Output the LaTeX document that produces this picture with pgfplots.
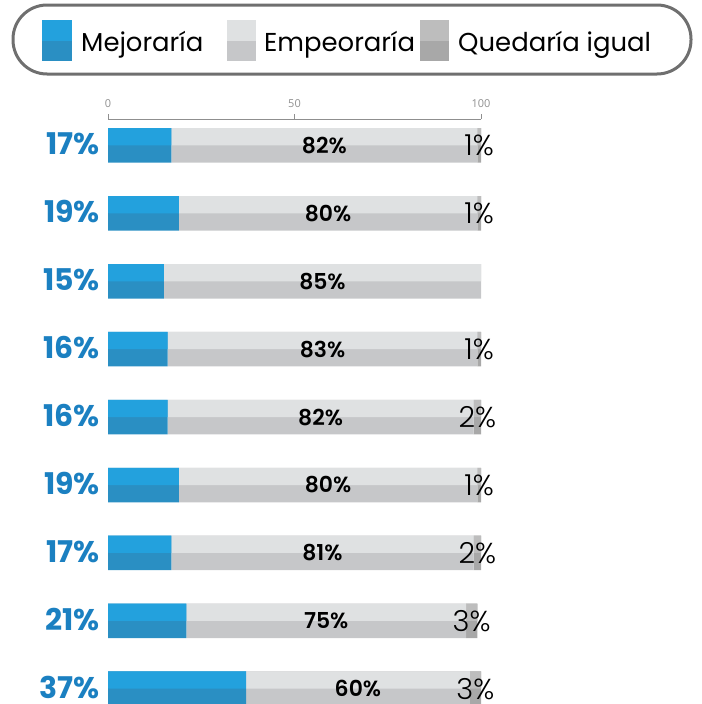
\documentclass[border=0pt]{standalone}
\usepackage{fontspec}
\usepackage{pgfplots}
\pgfplotsset{compat=1.18}
\setmainfont{Poppins}
\IfFontExistsTF{Poppins Light}{\newfontfamily\lightfont{Poppins Light}}{\newfontfamily\lightfont{Poppins}}
\IfFontExistsTF{Poppins SemiBold}{\newfontfamily\semifont{Poppins SemiBold}}{\newfontfamily\semifont[FakeBold=0]{Poppins Bold}}
\newfontfamily\tickfont{Open Sans}
\definecolor{blueL}{HTML}{23A1DD}
\definecolor{blueD}{HTML}{2A8FC3}
\definecolor{empL}{HTML}{DFE1E2}
\definecolor{empD}{HTML}{C6C7C9}
\definecolor{queL}{HTML}{BDBDBD}
\definecolor{queD}{HTML}{A8A8A8}
\definecolor{labblue}{HTML}{1B80C1}
\definecolor{boxgray}{HTML}{6F6F6F}
\definecolor{tickgray}{HTML}{8F8F8F}

\pgfplotstableread{
y mej emp que
9 17 82 1
8 19 80 1
7 15 85 0
6 16 83 1
5 16 82 2
4 19 80 1
3 17 81 2
2 21 75 3
1 37 60 3
}\bars
\pgfplotstableread{
x y lab
0 9 17
0 8 19
0 7 15
0 6 16
0 5 16
0 4 19
0 3 17
0 2 21
0 1 37
}\bluelab
\pgfplotstableread{
x y lab
58 9 82
59 8 80
57.5 7 85
57.5 6 83
57 5 82
59 4 80
57.5 3 81
58.5 2 75
67 1 60
}\midlab
\pgfplotstableread{
x y lab
99.5 9 1
99.5 8 1
99.5 6 1
99 5 2
99.5 4 1
99 3 2
97.5 2 3
98.5 1 3
}\rightlab

\pgfplotsset{
  common/.style={
    at={(108bp,-119bp)}, anchor=north west,
    scale only axis, width=373bp, height=587.7bp,
    xmin=0, xmax=100, ymin=0.735, ymax=9.39,
    clip=false,
  },
  lab/.style={
    only marks, mark=*, mark size=0pt, mark options={draw=none, fill=none},
    point meta=explicit symbolic,
    nodes near coords={\pgfplotspointmeta\%},
    nodes near coords align={center},
  }
}

\begin{document}
\begin{tikzpicture}
\useasboundingbox (0,0) rectangle (702bp,-704bp);
% legend
\draw[boxgray, line width=3bp, rounded corners=34bp] (13bp,-5bp) rectangle (691bp,-74bp);
\fill[blueD] (42bp,-40.5bp) rectangle (72bp,-61bp);
\fill[blueL] (42bp,-20bp) rectangle (72bp,-40.5bp);
\node[anchor=base west, inner sep=0pt, font=\fontsize{26}{26}\selectfont] at (81bp,-51bp) {Mejoraría};
\fill[empD] (227bp,-40.5bp) rectangle (256bp,-61bp);
\fill[empL] (227bp,-20bp) rectangle (256bp,-40.5bp);
\node[anchor=base west, inner sep=0pt, font=\fontsize{26}{26}\selectfont] at (264bp,-51bp) {Empeoraría};
\fill[queD] (420bp,-40.5bp) rectangle (449bp,-61bp);
\fill[queL] (420bp,-20bp) rectangle (449bp,-40.5bp);
\node[anchor=base west, inner sep=0pt, font=\fontsize{26}{26}\selectfont] at (458bp,-51bp) {Quedaría igual};

% full-height (dark) bars and top axis
\begin{axis}[common,
  xbar stacked, bar width=34.5bp,
  axis x line*=top, axis y line=none,
  xtick={0,50,100}, xticklabels={0,50,100}, ytick=\empty,
  tick align=outside, major tick length=5bp,
  x axis line style={tickgray, line width=1bp},
  xtick style={tickgray, line width=1bp},
  xticklabel style={font=\tickfont\fontsize{11}{11}\selectfont, text=tickgray, yshift=3bp},
]
\addplot[fill=blueD, draw=none] table[x=mej, y=y] {\bars};
\addplot[fill=empD, draw=none] table[x=emp, y=y] {\bars};
\addplot[fill=queD, draw=none] table[x=que, y=y] {\bars};
\end{axis}

% top halves (light)
\begin{axis}[common, hide axis,
  xbar stacked, bar width=17.25bp, bar shift=8.625bp,
]
\addplot[fill=blueL, draw=none] table[x=mej, y=y] {\bars};
\addplot[fill=empL, draw=none] table[x=emp, y=y] {\bars};
\addplot[fill=queL, draw=none] table[x=que, y=y] {\bars};
\end{axis}

% labels
\begin{axis}[common, hide axis]
\addplot[lab, every node near coord/.append style={anchor=east, inner sep=0pt, xshift=-8bp, yshift=1.5bp, text=labblue, font=\bfseries\fontsize{30}{30}\selectfont}] table[x=x, y=y, meta=lab] {\bluelab};
\addplot[lab, every node near coord/.append style={anchor=center, inner sep=0pt, text=black, font=\semifont\fontsize{22}{22}\selectfont}] table[x=x, y=y, meta=lab] {\midlab};
\addplot[lab, every node near coord/.append style={anchor=center, inner sep=0pt, text=black, font=\lightfont\fontsize{29}{29}\selectfont}] table[x=x, y=y, meta=lab] {\rightlab};
\end{axis}
\end{tikzpicture}
\end{document}
